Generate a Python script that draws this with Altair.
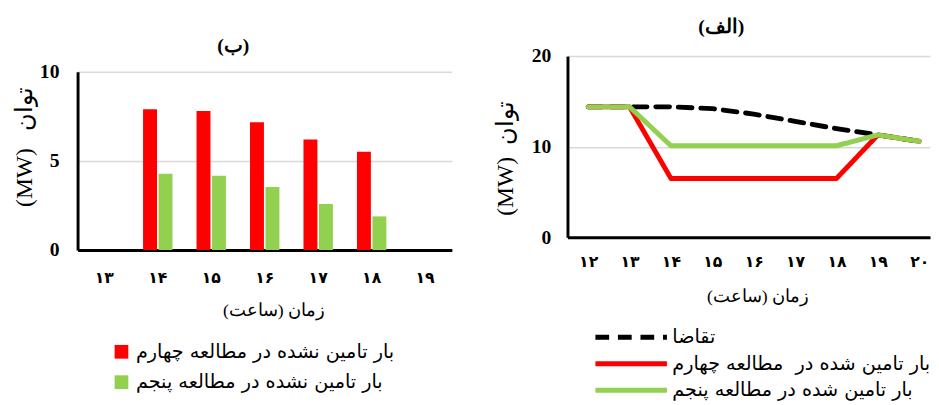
import altair as alt
import pandas as pd

# ---- panel (ب): unserved load, bar chart ----
bar_hours = ["۱۳", "۱۴", "۱۵", "۱۶", "۱۷", "۱۸", "۱۹"]
unserved_study4 = [0, 7.9, 7.8, 7.17, 6.2, 5.52, 0]
unserved_study5 = [0, 4.28, 4.17, 3.54, 2.59, 1.89, 0]
bar_series = ["بار تامین نشده در مطالعه چهارم", "بار تامین نشده در مطالعه پنجم"]
bar_colors = ["#ff0000", "#92d050"]

# ---- panel (الف): demand and supplied load, line chart ----
line_hours = [12, 13, 14, 15, 16, 17, 18, 19, 20]
line_hour_labels = ["۱۲", "۱۳", "۱۴", "۱۵", "۱۶", "۱۷", "۱۸", "۱۹", "۲۰"]
demand = [14.4, 14.4, 14.4, 14.2, 13.6, 12.8, 12.0, 11.3, 10.6]
supplied_study4 = [14.4, 14.4, 6.5, 6.5, 6.5, 6.5, 6.5, 11.3, 10.6]
supplied_study5 = [14.4, 14.4, 10.1, 10.1, 10.1, 10.1, 10.1, 11.3, 10.6]
line_series = ["تقاضا", "بار تامین شده در\u00a0 مطالعه چهارم", "بار تامین شده در مطالعه پنجم"]
line_colors = ["#000000", "#ff0000", "#92d050"]

y_title_left = "(MW)\u00a0\u00a0\u00a0توان"
y_title_right = "(MW)\u00a0\u00a0توان"
x_title = "زمان (ساعت)\u200f"
serif = "Liberation Serif"
sans = "DejaVu Sans"

bar_df = pd.DataFrame({
    "hour": bar_hours * 2,
    "study": [bar_series[0]] * len(bar_hours) + [bar_series[1]] * len(bar_hours),
    "value": unserved_study4 + unserved_study5,
})

line_df = pd.DataFrame({
    "hour": line_hours * 3,
    "series": [line_series[0]] * 9 + [line_series[1]] * 9 + [line_series[2]] * 9,
    "value": demand + supplied_study4 + supplied_study5,
})

hour_label_expr = " : ".join(
    f"datum.value == {h} ? '{l}'" for h, l in zip(line_hours, line_hour_labels)
) + " : ''"


def y_axis(title, values, title_x, title_y, pad):
    return alt.Axis(values=values, title=title, grid=True, gridColor="#d9d9d9", gridWidth=1.5,
                    ticks=False, domainColor="black", domainWidth=3,
                    labelFont=serif, labelFontWeight="bold", labelFontSize=20, labelColor="black",
                    labelPadding=pad,
                    titleFont=serif, titleFontSize=24, titleFontWeight="normal", titleColor="black",
                    titleX=title_x, titleY=title_y, titleBaseline="middle", titleAngle=270)


def x_axis(title_x, title_y, pad, **kw):
    return alt.Axis(title=x_title, labelAngle=0, grid=False, ticks=False,
                    domainColor="black", domainWidth=3,
                    labelFont=sans, labelFontWeight="bold", labelFontSize=16, labelColor="black",
                    labelPadding=pad,
                    titleFont=serif, titleFontSize=18, titleFontWeight="normal", titleColor="black",
                    titleX=title_x, titleY=title_y, titleBaseline="middle", **kw)


bar_chart = alt.Chart(bar_df).mark_bar().encode(
    x=alt.X("hour:N", sort=bar_hours,
            scale=alt.Scale(paddingInner=0.45, paddingOuter=0.225),
            axis=x_axis(200, 62, 20)),
    xOffset=alt.XOffset("study:N", scale=alt.Scale(domain=bar_series, paddingInner=0.1)),
    y=alt.Y("value:Q", scale=alt.Scale(domain=[0, 10], range=[198, 16]),
            axis=y_axis(y_title_left, [0, 5, 10], -54, 92, 19)),
    color=alt.Color("study:N", scale=alt.Scale(domain=bar_series, range=bar_colors),
                    legend=alt.Legend(orient="none", legendX=35, legendY=292, title=None,
                                      symbolType="square", symbolSize=196, symbolStrokeWidth=0,
                                      symbolOpacity=1,
                                      labelFont=sans, labelFontSize=19.6, labelColor="black",
                                      labelOffset=5, rowPadding=10, labelLimit=500)),
).properties(
    width=382, height=198,
    title=alt.TitleParams("(ب)", font=serif, fontSize=20, fontWeight="bold", color="black",
                          frame="group", dx=-32, offset=0),
)

# a long horizontal stroke drawn beyond a small (24px) legend symbol box
line_legend = alt.Legend(orient="none", legendX=50, legendY=272, title=None,
                         symbolType="M-3,0H3", symbolSize=592, symbolStrokeWidth=5,
                         labelFont=sans, labelFontSize=19.6, labelColor="black",
                         labelOffset=27, rowPadding=2, labelLimit=500)

line_base = alt.Chart(line_df).encode(
    x=alt.X("hour:Q", scale=alt.Scale(domain=[11.5, 20.26], nice=False, zero=False),
            axis=x_axis(194, 60, 17, values=line_hours, labelExpr=hour_label_expr)),
    y=alt.Y("value:Q", scale=alt.Scale(domain=[0, 20]),
            axis=y_axis(y_title_right, [0, 10, 20], -63, 104, 17)),
    color=alt.Color("series:N", scale=alt.Scale(domain=line_series, range=line_colors),
                    legend=line_legend),
    strokeDash=alt.StrokeDash("series:N",
                              scale=alt.Scale(domain=line_series, range=[[14, 9], [1, 0], [1, 0]]),
                              legend=line_legend),
)

line_layers = [
    line_base.transform_filter(alt.datum.series == s).mark_line(
        strokeWidth=5, strokeCap="round", strokeJoin="round")
    for s in line_series
]

line_chart = alt.layer(*line_layers).properties(
    width=370, height=185,
    title=alt.TitleParams("(الف)", font=serif, fontSize=20, fontWeight="bold", color="black",
                          frame="group", dx=-28, offset=10),
)

chart = alt.hconcat(bar_chart, line_chart, spacing=43).resolve_scale(
    color="independent", strokeDash="independent"
).resolve_legend(color="independent", strokeDash="independent").configure_view(
    stroke=None
).properties(padding={"left": 5, "top": 5, "right": 0, "bottom": 0})

chart.save("out.html", embed_options={"renderer": "svg", "actions": False})
